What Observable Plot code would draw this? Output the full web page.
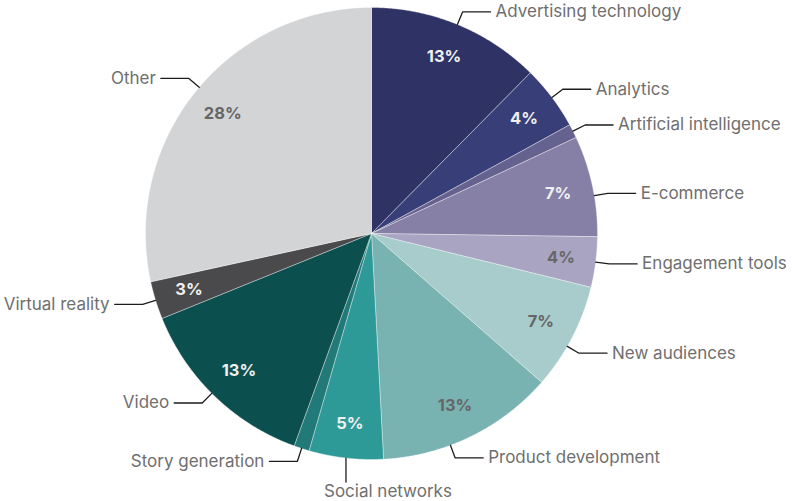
<!DOCTYPE html>
<html><head><meta charset="utf-8">
<script src="https://cdn.jsdelivr.net/npm/d3@7"></script>
<script src="https://cdn.jsdelivr.net/npm/@observablehq/plot@0.6"></script>
<style>body{margin:0;background:#fff}#chart svg{display:block}</style>
</head><body><div id="chart"></div>
<script>
const categories = ["Advertising technology","Analytics","Artificial intelligence","E-commerce","Engagement tools","New audiences","Product development","Social networks","Story generation","Video","Virtual reality","Other"];
const shares = [12.4,4.6,1.0,7.2,3.6,7.6,12.7,5.3,1.1,13.3,2.7,28.4];
const pctLabels = ["13%","4%","","7%","4%","7%","13%","5%","","13%","3%","28%"];
const sliceColors = ["#2f3264","#383f78","#66628f","#8780a6","#a9a4c1","#a7cccb","#78b3b2","#2e9a98","#217a78","#0b4f4f","#4a4a4c","#d3d4d6"];
const lightText = [true,true,true,true,false,false,false,true,true,true,true,false];

// layout: small angular nudges (degrees) for some leader lines
const leaderNudge = {"E-commerce": 2.5, "New audiences": 2.5, "Product development": 5.5, "Video": 1, "Other": 1.5};

const W = 794, H = 501, R = 226, CX = 371, CY = 233;
const px = R; // pixels per unit
const total = d3.sum(shares);
let acc = 0;
const slices = categories.map((name, i) => {
  const a0 = acc / total * 2 * Math.PI; acc += shares[i];
  const a1 = acc / total * 2 * Math.PI;
  return {name, i, a0, a1, mid: (a0 + a1) / 2};
});
const piePts = slices.flatMap(s => {
  const pts = [{name: s.name, x: 0, y: 0}];
  const n = Math.max(2, Math.ceil((s.a1 - s.a0) / 0.004));
  for (let k = 0; k <= n; k++) {
    const a = s.a0 + (s.a1 - s.a0) * k / n;
    pts.push({name: s.name, x: Math.sin(a), y: Math.cos(a)});
  }
  pts.push({name: s.name, x: 0, y: 0});
  return pts;
});
const pctData = slices.filter(s => pctLabels[s.i]).map(s => ({
  x: 0.845 * Math.sin(s.mid), y: 0.845 * Math.cos(s.mid), text: pctLabels[s.i], light: lightText[s.i]
}));
const leader = [], namesR = [], namesL = [], namesB = [];
slices.forEach(s => {
  const a = s.mid + (leaderNudge[s.name] || 0) * Math.PI / 180;
  const sx = Math.sin(a), sy = Math.cos(a);
  const x0 = sx, y0 = sy;
  if (Math.abs(sx) < 0.15) {
    const y1 = y0 - 24 / px;
    leader.push({name: s.name, x: x0, y: y0}, {name: s.name, x: x0, y: y1});
    namesB.push({x: x0, y: y1 - 3 / px, text: s.name});
    return;
  }
  const x1 = 1.06 * sx, y1 = 1.06 * sy;
  const dir = sx > 0 ? 1 : -1;
  const x2 = x1 + dir * 28 / px;
  leader.push({name: s.name, x: x0, y: y0}, {name: s.name, x: x1, y: y1}, {name: s.name, x: x2, y: y1});
  (dir > 0 ? namesR : namesL).push({x: x2, y: y1, text: s.name});
});

const font = "Inter, 'Noto Sans', sans-serif";
const nameColor = "#6f6f6f";
const chart = Plot.plot({
  width: W, height: H, margin: 0,
  x: {domain: [-CX / px, (W - CX) / px], range: [0, W], axis: null},
  y: {domain: [-(H - CY) / px, CY / px], range: [H, 0], axis: null},
  color: {domain: categories, range: sliceColors},
  style: {background: "#fff", fontFamily: font},
  marks: [
    Plot.line(piePts, {x: "x", y: "y", z: "name", fill: "name", stroke: "#ffffff", strokeWidth: 0.6, strokeOpacity: 0.6, curve: "linear"}),
    Plot.line(leader, {x: "x", y: "y", z: "name", stroke: "#1c1c1c", strokeWidth: 1.3, curve: "linear"}),
    Plot.text(pctData.filter(d => d.light), {x: "x", y: "y", text: "text", fill: "#f0f0f0", fontSize: 16.5, fontWeight: 700, fontFamily: font}),
    Plot.text(pctData.filter(d => !d.light), {x: "x", y: "y", text: "text", fill: "#666666", fontSize: 16.5, fontWeight: 700, fontFamily: font}),
    Plot.text(namesR, {x: "x", y: "y", text: "text", textAnchor: "start", dx: 5, fill: nameColor, fontSize: 17, fontFamily: font}),
    Plot.text(namesL, {x: "x", y: "y", text: "text", textAnchor: "end", dx: -5, fill: nameColor, fontSize: 17, fontFamily: font}),
    Plot.text(namesB, {x: "x", y: "y", text: "text", textAnchor: "start", lineAnchor: "top", dx: -22, fill: nameColor, fontSize: 17, fontFamily: font})
  ]
});
document.getElementById("chart").appendChild(chart);
</script>
</body></html>
